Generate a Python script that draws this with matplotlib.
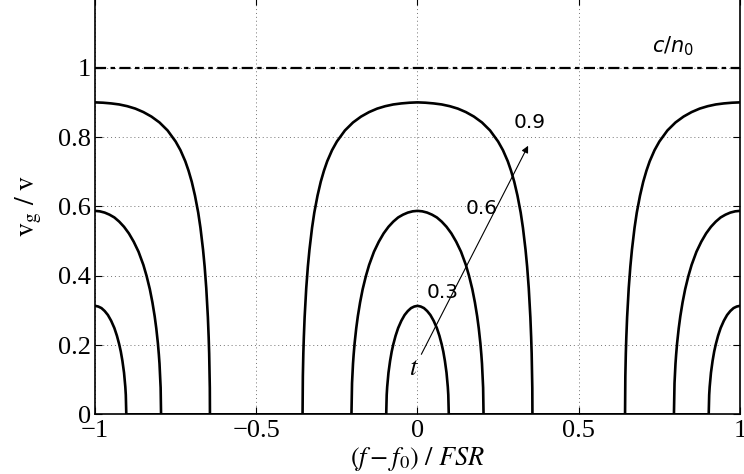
import numpy as np
import matplotlib
matplotlib.use("Agg")
import matplotlib.pyplot as plt

# values (half of each band, offset from its centre)
t_values = [0.3, 0.6, 0.9]
band_centres = [-1.0, 0.0, 1.0]

off_03 = [0.0, 0.01, 0.02, 0.03, 0.04, 0.05, 0.06, 0.068, 0.075, 0.08, 0.085,
          0.09, 0.094, 0.0955, 0.097]
vg_03 = [0.313, 0.311, 0.3065, 0.298, 0.2865, 0.270, 0.249, 0.2265, 0.202, 0.181,
         0.154, 0.120, 0.079, 0.056, 0.0]

off_06 = [0.0, 0.015, 0.03, 0.045, 0.06, 0.075, 0.09, 0.105, 0.12, 0.135, 0.15,
          0.16, 0.17, 0.178, 0.185, 0.19, 0.195, 0.198, 0.2, 0.203, 0.2035, 0.2048]
vg_06 = [0.587, 0.5856, 0.582, 0.576, 0.568, 0.556, 0.541, 0.522, 0.498, 0.469,
         0.431, 0.399, 0.361, 0.323, 0.283, 0.248, 0.205, 0.172, 0.146, 0.090,
         0.077, 0.0]

off_09 = [0.0, 0.025, 0.05, 0.075, 0.10, 0.125, 0.15, 0.175, 0.20, 0.225, 0.25,
          0.265, 0.28, 0.29, 0.30, 0.31, 0.32, 0.327, 0.335, 0.34, 0.345, 0.35,
          0.3525, 0.354, 0.3555, 0.356, 0.3564]
vg_09 = [0.90, 0.899, 0.897, 0.894, 0.889, 0.882, 0.872, 0.859, 0.842, 0.819,
         0.787, 0.762, 0.730, 0.703, 0.671, 0.631, 0.582, 0.538, 0.475, 0.426,
         0.364, 0.280, 0.221, 0.176, 0.110, 0.076, 0.0]

light_line = 1.0
xticks = [-1, -0.5, 0, 0.5, 1]
yticks = [0, 0.2, 0.4, 0.6, 0.8, 1]

plt.rcParams["mathtext.fontset"] = "stix"

fig = plt.figure(figsize=(7.44, 4.74), dpi=100)
ax = fig.add_axes([0.1277, 0.1259, 0.8669, 0.8775])

for off, vg in [(off_03, vg_03), (off_06, vg_06), (off_09, vg_09)]:
    off = np.array(off)
    vg = np.array(vg)
    # one band = mirrored half
    band_x = np.concatenate([-off[::-1], off[1:]])
    band_y = np.concatenate([vg[::-1], vg[1:]])
    xs = np.concatenate([c + band_x for c in band_centres])
    ys = np.concatenate([band_y for c in band_centres])
    ax.plot(xs, ys, color="black", lw=1.9, solid_joinstyle="round")

ax.axhline(light_line, color="black", lw=1.6, linestyle=(0, (5, 2, 2, 2)))

ax.set_xlim(-1, 1)
ax.set_ylim(0, 1.2)
ax.set_xticks(xticks)
ax.set_yticks(yticks)
ax.set_xticklabels(["\u22121", "\u22120.5", "0", "0.5", "1"])
ax.set_yticklabels(["0", "0.2", "0.4", "0.6", "0.8", "1"])
for lab in ax.get_xticklabels() + ax.get_yticklabels():
    lab.set_fontfamily("Liberation Serif")
    lab.set_fontsize(19)
ax.tick_params(direction="in", length=5, width=0.8, top=True, right=True, pad=3)
ax.tick_params(axis="x", pad=4)
ax.grid(True, linestyle=(0, (1, 3)), color="0.45", lw=0.7)
for s in ax.spines.values():
    s.set_linewidth(1.2)

ax.set_xlabel(r"$(f-f_{\mathit{0}})\ /\ FSR$", fontsize=19, labelpad=2)
ax.set_ylabel(r"$\mathrm{v_g\ /\ v}$", fontsize=20, labelpad=10)

# labels and arrow for t
ax.text(0.028, 0.352, "0.3", fontsize=14.5, family="DejaVu Sans", ha="left", va="center")
ax.text(0.148, 0.594, "0.6", fontsize=14.5, family="DejaVu Sans", ha="left", va="center")
ax.text(0.298, 0.842, "0.9", fontsize=14.5, family="DejaVu Sans", ha="left", va="center")
ax.text(-0.012, 0.135, r"$t$", fontsize=19, ha="center", va="center")
ax.annotate("", xy=(0.347, 0.782), xytext=(0.008, 0.166),
            arrowprops=dict(arrowstyle="-|>", color="black", lw=0.8, mutation_scale=10))
ax.text(0.726, 1.045, r"$c/n_{0}$", fontsize=15, family="DejaVu Sans",
        ha="left", va="baseline", math_fontfamily="dejavusans")

fig.savefig("out.png", dpi=100)
